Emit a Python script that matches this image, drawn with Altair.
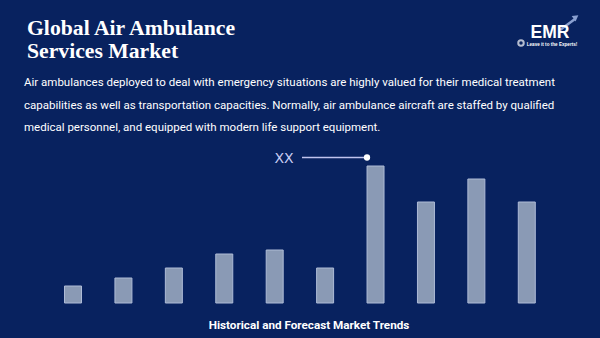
import altair as alt
import pandas as pd

# ---- data ----
periods = ["P1", "P2", "P3", "P4", "P5", "P6", "P7", "P8", "P9", "P10"]
values = [17, 25, 35, 49, 53, 35, 137, 101, 124, 101]

title_lines = ["Global Air Ambulance", "Services Market"]
desc_lines = [
    "Air ambulances deployed to deal with emergency situations are highly valued for their medical treatment",
    "capabilities as well as transportation capacities. Normally, air ambulance aircraft are staffed by qualified",
    "medical personnel, and equipped with modern life support equipment.",
]
footer = "Historical and Forecast Market Trends"
annot_label = "XX"

BG = "#08225f"
BAR_FILL = "#8a9ab5"
BAR_STROKE = "#aebbd6"
NARROW = "Liberation Sans Narrow, Roboto, sans-serif"

df = pd.DataFrame({"period": periods, "value": values})
one = pd.DataFrame({"k": [0]})

bars = alt.Chart(df).mark_bar(
    fill=BAR_FILL, stroke=BAR_STROKE, strokeWidth=1
).encode(
    x=alt.X("period:N", sort=periods, axis=None,
            scale=alt.Scale(range=[47.8, 552], paddingInner=0.663, paddingOuter=0.3315)),
    y=alt.Y("value:Q", axis=None, scale=alt.Scale(domain=[0, 150], range=[303, 153])),
)

def txt(s, x, y, size, color="white", weight="normal", font=NARROW, align="left", baseline="alphabetic"):
    return alt.Chart(one).mark_text(
        text=s, fontSize=size, color=color, fontWeight=weight, font=font,
        align=align, baseline=baseline
    ).encode(x=alt.value(x), y=alt.value(y))

layers = [bars]
layers.append(txt(title_lines[0], 27, 35, 21.7, weight="bold", font="Liberation Serif, serif"))
layers.append(txt(title_lines[1], 27, 58, 21.7, weight="bold", font="Liberation Serif, serif"))
for i, line in enumerate(desc_lines):
    layers.append(txt(line, 24, 86 + i * 22.5, 11.5))
layers.append(txt(footer, 309, 329, 11.7, weight="bold", align="center"))

# annotation
layers.append(txt(annot_label, 284, 163, 14, color="#c9cdf2", font="DejaVu Sans ExtraLight, DejaVu Sans, sans-serif", align="center"))
layers.append(alt.Chart(one).mark_rule(color="#c0c4ee", strokeWidth=1.5).encode(
    x=alt.value(302), x2=alt.value(367), y=alt.value(157.5)))
layers.append(alt.Chart(one).mark_point(filled=True, color="white", size=40, opacity=1).encode(
    x=alt.value(367), y=alt.value(157.5)))

# logo
layers.append(alt.Chart(one).mark_rule(color="#8aa0d0", strokeWidth=2.5).encode(
    x=alt.value(560), x2=alt.value(575), y=alt.value(30), y2=alt.value(19)))
layers.append(alt.Chart(one).mark_point(shape="triangle-up", filled=True, color="#8aa0d0", size=45, angle=54, opacity=1).encode(
    x=alt.value(576), y=alt.value(17)))
layers.append(txt("EMR", 550, 38, 17.5, weight="bold", font="Liberation Sans, sans-serif", align="center"))
layers.append(txt("Leave it to the Experts!", 552, 45.5, 4.6, weight="bold", font="Liberation Sans, sans-serif", align="center"))
layers.append(alt.Chart(one).mark_point(shape="circle", color="white", size=30, strokeWidth=2).encode(
    x=alt.value(521), y=alt.value(43)))

chart = alt.layer(*layers).properties(
    width=600, height=338, background=BG, padding=0,
    autosize=alt.AutoSizeParams(type="none"),
).configure_view(stroke=None)

chart.save("out.html", embed_options={"renderer": "svg", "actions": False})
